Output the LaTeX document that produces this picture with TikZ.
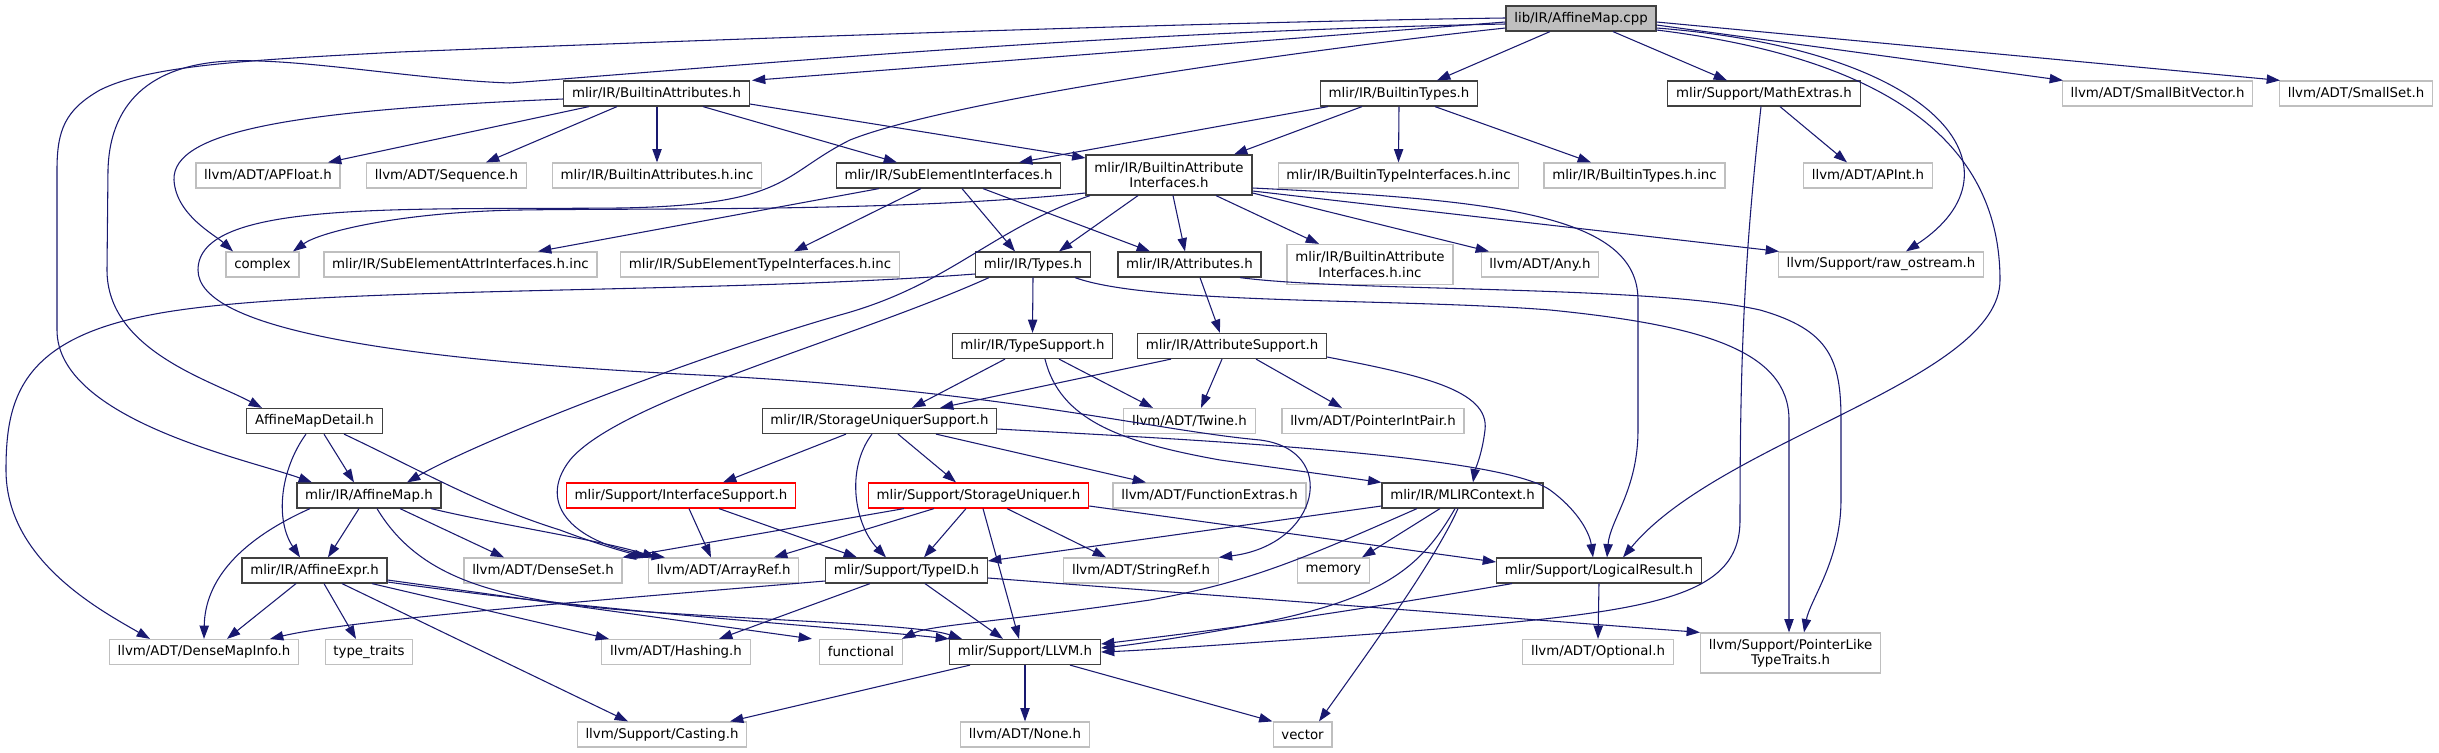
\documentclass[tikz,border=0pt]{standalone}
\usepackage{fontspec}
\setsansfont{DejaVu Sans}
\usetikzlibrary{arrows.meta}
\definecolor{edgeblue}{HTML}{191970}
\definecolor{extline}{HTML}{BFBFBF}
\definecolor{rootfill}{HTML}{BFBFBF}
\definecolor{nodeline}{HTML}{404040}
\tikzset{
  incnode/.style={draw=nodeline, line width=0.9pt, fill=white, minimum height=18.75pt,
                  inner xsep=6.2pt, inner ysep=2pt, align=center,
                  font=\sffamily\fontsize{10}{11.5}\selectfont},
  extnode/.style={incnode, draw=extline},
  truncnode/.style={incnode, draw=red},
  rootnode/.style={incnode, fill=rootfill},
  twoline/.style={minimum height=30pt},
  dep/.style={draw=edgeblue, line width=0.8pt, -{Triangle[length=10pt,width=7pt]}},
}

\begin{document}
\begin{tikzpicture}[x=0.75pt, y=-0.75pt]
    \useasboundingbox (0,0) rectangle (2439,753);
    \fill[white] (0,0) rectangle (2439,753);
    \node[rootnode] (root) at (1581,18.5) {lib/IR/AffineMap.cpp};
    \node[incnode] (battr) at (656.5,93.5) {mlir/IR/BuiltinAttributes.h};
    \node[incnode] (btypes) at (1399,93.5) {mlir/IR/BuiltinTypes.h};
    \node[incnode] (mathx) at (1764,93.5) {mlir/Support/MathExtras.h};
    \node[extnode] (sbv) at (2157.5,93.5) {llvm/ADT/SmallBitVector.h};
    \node[extnode] (sset) at (2356,93.5) {llvm/ADT/SmallSet.h};
    \node[extnode] (apfloat) at (268,175.5) {llvm/ADT/APFloat.h};
    \node[extnode] (sequence) at (446.5,175.5) {llvm/ADT/Sequence.h};
    \node[extnode] (battrinc) at (657,175.5) {mlir/IR/BuiltinAttributes.h.inc};
    \node[incnode] (subel) at (948.5,175.5) {mlir/IR/SubElementInterfaces.h};
    \node[incnode, twoline] (bai) at (1169,175) {mlir/IR/BuiltinAttribute\\Interfaces.h};
    \node[extnode] (btiinc) at (1398.5,175.5) {mlir/IR/BuiltinTypeInterfaces.h.inc};
    \node[extnode] (btinc) at (1634.5,175.5) {mlir/IR/BuiltinTypes.h.inc};
    \node[extnode] (apint) at (1868,175.5) {llvm/ADT/APInt.h};
    \node[extnode] (complex) at (262.5,264.5) {complex};
    \node[extnode] (seainc) at (460.5,264.5) {mlir/IR/SubElementAttrInterfaces.h.inc};
    \node[extnode] (setinc) at (760,264.5) {mlir/IR/SubElementTypeInterfaces.h.inc};
    \node[incnode] (types) at (1033,264.5) {mlir/IR/Types.h};
    \node[incnode] (attrs) at (1189.5,264.5) {mlir/IR/Attributes.h};
    \node[extnode, twoline] (baiinc) at (1370,264.5) {mlir/IR/BuiltinAttribute\\Interfaces.h.inc};
    \node[extnode] (any) at (1540,264.5) {llvm/ADT/Any.h};
    \node[extnode] (rawos) at (1881,264.5) {llvm/Support/raw\_ostream.h};
    \node[incnode] (tsup) at (1032.5,346) {mlir/IR/TypeSupport.h};
    \node[incnode] (asup) at (1232,346) {mlir/IR/AttributeSupport.h};
    \node[incnode] (amdetail) at (314.5,421) {AffineMapDetail.h};
    \node[incnode] (susup) at (879.5,421) {mlir/IR/StorageUniquerSupport.h};
    \node[extnode] (twine) at (1189.5,421) {llvm/ADT/Twine.h};
    \node[extnode] (pip) at (1373,421) {llvm/ADT/PointerIntPair.h};
    \node[incnode] (amap) at (369,495.5) {mlir/IR/AffineMap.h};
    \node[truncnode] (isup) at (681,495.5) {mlir/Support/InterfaceSupport.h};
    \node[truncnode] (suniq) at (978.5,495.5) {mlir/Support/StorageUniquer.h};
    \node[extnode] (fnext) at (1209.5,495.5) {llvm/ADT/FunctionExtras.h};
    \node[incnode] (mlirctx) at (1462.5,495.5) {mlir/IR/MLIRContext.h};
    \node[incnode] (aexpr) at (314.5,570.5) {mlir/IR/AffineExpr.h};
    \node[extnode] (dset) at (543,570.5) {llvm/ADT/DenseSet.h};
    \node[extnode] (aref) at (723.5,570.5) {llvm/ADT/ArrayRef.h};
    \node[incnode] (typeid) at (906.5,570.5) {mlir/Support/TypeID.h};
    \node[extnode] (sref) at (1141,570.5) {llvm/ADT/StringRef.h};
    \node[extnode] (memory) at (1333.5,570.5) {memory};
    \node[incnode] (lres) at (1599,570.5) {mlir/Support/LogicalResult.h};
    \node[extnode] (dmi) at (204,652) {llvm/ADT/DenseMapInfo.h};
    \node[extnode] (ttraits) at (369,652) {type\_traits};
    \node[extnode] (hashing) at (676,652) {llvm/ADT/Hashing.h};
    \node[extnode] (functional) at (861,652) {functional};
    \node[incnode] (llvmh) at (1025,652) {mlir/Support/LLVM.h};
    \node[extnode] (optional) at (1598,652) {llvm/ADT/Optional.h};
    \node[extnode, twoline] (plike) at (1790.5,653) {llvm/Support/PointerLike\\TypeTraits.h};
    \node[extnode] (casting) at (662,734.5) {llvm/Support/Casting.h};
    \node[extnode] (noneh) at (1025,734.5) {llvm/ADT/None.h};
    \node[extnode] (vector) at (1302.5,734.5) {vector};

    \draw[dep] (root.west |- 0,22) -- (752,0 |- battr.north);
    \draw[dep] (1550,0 |- root.south) -- (1437,0 |- btypes.north);
    \draw[dep] (1613,0 |- root.south) -- (1727,0 |- mathx.north);
    \draw[dep] (root.east |- 0,25) -- (2063,0 |- sbv.north);
    \draw[dep] (root.east |- 0,22) -- (2280,0 |- sset.north);
    \draw[dep] (root.east |- 0,28) .. controls (1940,50) and (2030,170) .. (1906,0 |- rawos.north);
    \draw[dep] (root.east |- 0,30) .. controls (1900,60) and (2000,150) .. (2000,280)
        .. controls (2000,380) and (1720,440) .. (1623,0 |- lres.north);
    \draw[dep] (root.west |- 0,24) .. controls (1100,32) and (750,65) .. (510,83)
        .. controls (420,80) and (300,58) .. (230,61) .. controls (160,64) and (110,95) .. (108,170)
        -- (107,270) .. controls (107,350) and (210,380) .. (262,0 |- amdetail.north);
    \draw[dep] (root.west |- 0,18) .. controls (1200,22) and (700,40) .. (400,52)
        .. controls (250,60) and (150,65) .. (100,90) .. controls (65,110) and (57,130) .. (57,170)
        -- (57,330) .. controls (57,420) and (250,460) .. (312,0 |- amap.north);
    \draw[dep] (root.west |- 0,28) .. controls (1300,50) and (950,100) .. (850,140)
        .. controls (780,175) and (790,205) .. (620,208) .. controls (400,210) and (198,200) .. (198,270)
        .. controls (198,330) and (400,360) .. (700,375) .. controls (1000,390) and (1150,430) .. (1260,440)
        .. controls (1340,450) and (1320,545) .. (sref.north east);

    \draw[dep] (battr.west |- 0,99) .. controls (300,110) and (172,130) .. (174,180)
        .. controls (176,215) and (215,235) .. (233,0 |- complex.north);
    \draw[dep] (589,0 |- battr.south) -- (328,0 |- apfloat.north);
    \draw[dep] (617,0 |- battr.south) -- (486,0 |- sequence.north);
    \draw[dep] (657,0 |- battr.south) -- (battrinc.north);
    \draw[dep] (703,0 |- battr.south) -- (897,0 |- subel.north);
    \draw[dep] (battr.east |- 0,104) -- (bai.west |- 0,158);

    \draw[dep] (1328,0 |- btypes.south) -- (1019,0 |- subel.north);
    \draw[dep] (1362,0 |- btypes.south) -- (1234,0 |- bai.north);
    \draw[dep] (btypes.south) -- (btiinc.north);
    \draw[dep] (1435,0 |- btypes.south) -- (1591,0 |- btinc.north);

    \draw[dep] (1780,0 |- mathx.south) -- (1847,0 |- apint.north);
    \draw[dep] (1761,0 |- mathx.south) .. controls (1745,250) and (1740,350) .. (1740,520)
        .. controls (1740,600) and (1650,612) .. (1400,632)
        .. controls (1250,643) and (1150,650) .. (llvmh.east |- 0,652);

    \draw[dep] (879,0 |- subel.south) -- (538,0 |- seainc.north);
    \draw[dep] (921,0 |- subel.south) -- (794,0 |- setinc.north);
    \draw[dep] (962,0 |- subel.south) -- (1015,0 |- types.north);
    \draw[dep] (983,0 |- subel.south) -- (1150,0 |- attrs.north);

    \draw[dep] (bai.west |- 0,193) .. controls (900,212) and (650,208) .. (520,210)
        .. controls (400,212) and (320,232) .. (293,0 |- complex.north);
    \draw[dep] (1090,0 |- bai.south) .. controls (990,230) and (950,285) .. (840,315)
        .. controls (700,355) and (480,440) .. (407,0 |- amap.north);
    \draw[dep] (1138,0 |- bai.south) -- (1059,0 |- types.north);
    \draw[dep] (1173,0 |- bai.south) -- (1185,0 |- attrs.north);
    \draw[dep] (1216,0 |- bai.south) -- (1319,0 |- baiinc.north);
    \draw[dep] (bai.east |- 0,193) -- (1489,0 |- any.north);
    \draw[dep] (bai.east |- 0,191) -- (1779,0 |- rawos.north);
    \draw[dep] (bai.east |- 0,188) .. controls (1500,200) and (1638,215) .. (1638,300)
        -- (1638,430) .. controls (1638,490) and (1610,520) .. (1607,0 |- lres.north);

    \draw[dep] (types.west |- 0,274) .. controls (700,295) and (300,285) .. (150,315)
        .. controls (20,340) and (6,400) .. (6,470) .. controls (6,560) and (100,610) .. (150,0 |- dmi.north);
    \draw[dep] (types.south) -- (tsup.north);
    \draw[dep] (989,0 |- types.south) .. controls (850,340) and (620,400) .. (570,460)
        .. controls (535,505) and (575,545) .. (665,0 |- aref.north);
    \draw[dep] (1075,0 |- types.south) .. controls (1150,305) and (1400,298) .. (1550,310)
        .. controls (1700,325) and (1789,350) .. (1789,420) -- (1789,0 |- plike.north);

    \draw[dep] (1200,0 |- attrs.south) -- (1220,0 |- asup.north);
    \draw[dep] (1240,0 |- attrs.south) .. controls (1350,292) and (1650,285) .. (1760,310)
        .. controls (1830,330) and (1841,360) .. (1841,420) -- (1841,500)
        .. controls (1841,560) and (1810,600) .. (1804,0 |- plike.north);

    \draw[dep] (1005,0 |- tsup.south) -- (912,0 |- susup.north);
    \draw[dep] (1059,0 |- tsup.south) -- (1153,0 |- twine.north);
    \draw[dep] (1045,0 |- tsup.south) .. controls (1060,420) and (1120,442) .. (1220,460)
        -- (mlirctx.north west);

    \draw[dep] (1171,0 |- asup.south) -- (940,0 |- susup.north);
    \draw[dep] (1222,0 |- asup.south) -- (1201,0 |- twine.north);
    \draw[dep] (1256,0 |- asup.south) -- (1342,0 |- pip.north);
    \draw[dep] (asup.east |- 0,357) .. controls (1420,375) and (1490,390) .. (1485,430)
        .. controls (1482,455) and (1475,470) .. (1473,0 |- mlirctx.north);

    \draw[dep] (846,0 |- susup.south) -- (723,0 |- isup.north);
    \draw[dep] (872,0 |- susup.south) .. controls (845,470) and (855,525) .. (886,0 |- typeid.north);
    \draw[dep] (898,0 |- susup.south) -- (956,0 |- suniq.north);
    \draw[dep] (936,0 |- susup.south) -- (1146,0 |- fnext.north);
    \draw[dep] (susup.east |- 0,429) .. controls (1200,440) and (1500,455) .. (1550,490)
        .. controls (1580,512) and (1590,535) .. (1593,0 |- lres.north);

    \draw[dep] (689,0 |- isup.south) -- (711,0 |- aref.north);
    \draw[dep] (719,0 |- isup.south) -- (857,0 |- typeid.north);

    \draw[dep] (904,0 |- suniq.south) -- (dset.north east);
    \draw[dep] (934,0 |- suniq.south) -- (774,0 |- aref.north);
    \draw[dep] (966,0 |- suniq.south) -- (924,0 |- typeid.north);
    \draw[dep] (983,0 |- suniq.south) -- (1019,0 |- llvmh.north);
    \draw[dep] (1007,0 |- suniq.south) -- (1106,0 |- sref.north);
    \draw[dep] (suniq.east |- 0,506) -- (lres.west |- 0,562);

    \draw[dep] (mlirctx.west |- 0,506) -- (typeid.east |- 0,561);
    \draw[dep] (1417,0 |- mlirctx.south) .. controls (1300,560) and (1250,582) .. (1150,600)
        .. controls (1000,622) and (930,625) .. (902,0 |- functional.north);
    \draw[dep] (1440,0 |- mlirctx.south) -- (1362,0 |- memory.north);
    \draw[dep] (1455,0 |- mlirctx.south) .. controls (1420,570) and (1380,600) .. (1250,625)
        .. controls (1180,638) and (1130,645) .. (llvmh.east |- 0,648);
    \draw[dep] (1458,0 |- mlirctx.south) .. controls (1435,560) and (1370,650) .. (1319,0 |- vector.north);

    \draw[dep] (1512,0 |- lres.south) .. controls (1300,620) and (1200,632) .. (llvmh.east |- 0,644);
    \draw[dep] (lres.south) -- (optional.north);

    \draw[dep] (306,0 |- amdetail.south) .. controls (280,470) and (275,520) .. (300,0 |- aexpr.north);
    \draw[dep] (324,0 |- amdetail.south) -- (354,0 |- amap.north);
    \draw[dep] (344,0 |- amdetail.south) .. controls (420,470) and (480,505) .. (560,530)
        .. controls (600,545) and (625,552) .. (aref.north west);

    \draw[dep] (310,0 |- amap.south) .. controls (240,540) and (205,580) .. (204,0 |- dmi.north);
    \draw[dep] (359,0 |- amap.south) -- (328,0 |- aexpr.north);
    \draw[dep] (400,0 |- amap.south) -- (504,0 |- dset.north);
    \draw[dep] (431,0 |- amap.south) .. controls (500,525) and (600,540) .. (656,0 |- aref.north);
    \draw[dep] (377,0 |- amap.south) .. controls (420,580) and (500,602) .. (650,612)
        .. controls (800,622) and (920,625) .. (962,0 |- llvmh.north);

    \draw[dep] (296,0 |- aexpr.south) -- (227,0 |- dmi.north);
    \draw[dep] (324,0 |- aexpr.south) -- (356,0 |- ttraits.north);
    \draw[dep] (342,0 |- aexpr.south) -- (628,0 |- casting.north);
    \draw[dep] (372,0 |- aexpr.south) -- (609,0 |- hashing.north);
    \draw[dep] (aexpr.east |- 0,580) -- (812,0 |- functional.north);
    \draw[dep] (aexpr.east |- 0,582) .. controls (600,612) and (850,628) .. (llvmh.north west);

    \draw[dep] (typeid.west |- 0,581) .. controls (600,600) and (350,620) .. (270,0 |- dmi.north);
    \draw[dep] (870,0 |- typeid.south) -- (719,0 |- hashing.north);
    \draw[dep] (925,0 |- typeid.south) -- (1003,0 |- llvmh.north);
    \draw[dep] (typeid.east |- 0,578) -- (plike.north west);

    \draw[dep] (970,0 |- llvmh.south) -- (730,0 |- casting.north);
    \draw[dep] (llvmh.south) -- (noneh.north);
    \draw[dep] (1070,0 |- llvmh.south) -- (vector.north west);
  \end{tikzpicture}
\end{document}
